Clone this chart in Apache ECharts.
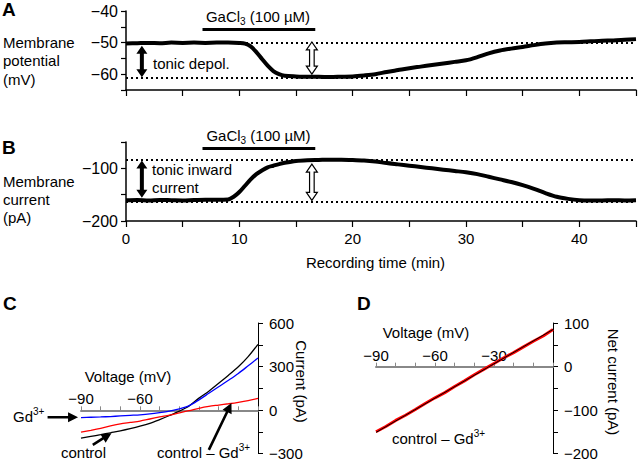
<!DOCTYPE html>
<html><head><meta charset="utf-8">
<script src="https://cdn.jsdelivr.net/npm/echarts@6/dist/echarts.min.js"></script>
<style>html,body{margin:0;padding:0;background:#fff}#c{width:640px;height:461px}</style>
</head><body><div id="c"></div>
<script>
// ---------- Panel A: membrane potential (mV) vs time (min)
const aTime = [0,1,2,3,4,5,6,7,8,9,10,10.5,11,11.5,12,12.5,13,13.5,14,15,16,17,18,19,20,21,22,23,24,25,26,27,28,29,30,31,32,33,34,35,36,37,38,39,40,41,42,43,44,45];
const aVm = [-50.3,-50.2,-50.1,-50.2,-50.0,-50.1,-50.0,-50.1,-50.0,-50.0,-50.1,-50.3,-51.2,-53.0,-55.2,-57.3,-59.0,-60.0,-60.5,-60.7,-60.8,-60.8,-60.9,-60.8,-60.7,-60.4,-60.0,-59.3,-58.7,-58.1,-57.6,-57.1,-56.6,-56.1,-55.6,-54.6,-53.4,-52.5,-51.9,-51.4,-50.8,-50.3,-50.0,-49.9,-49.8,-49.6,-49.4,-49.3,-49.1,-48.9];
const aLevels = [-50, -61];          // dotted reference levels
const aDrugLevel = -45.8;            // GaCl3 bar height
// ---------- Panel B: membrane current (pA) vs time (min)
const bTime = [0,1,2,3,4,5,6,7,8,9,9.5,10,10.5,11,11.5,12,12.5,13,13.5,14,15,16,17,18,19,20,21,22,23,24,25,26,27,28,29,30,31,32,33,34,35,36,37,38,39,40,41,42,43,44,45];
const bIm = [-160.5,-160,-161,-160,-160.5,-161,-160,-159.5,-159.5,-159,-154,-145,-133,-121,-111,-104,-98,-95,-92,-89.5,-86,-84.5,-84,-83.5,-83.5,-84,-85,-87,-90,-92.5,-95,-97.5,-100,-102.5,-105,-107.5,-111,-116,-121,-126,-132,-139,-147,-154,-158,-160.5,-161,-161,-160.5,-161,-160.5];
const bLevels = [-84, -164];
const bDrugLevel = -62;
const drugWindow = [6.75, 16.7];     // GaCl3 application (min)
const timeTicks = [0,10,20,30,40];
// arrows: [x1,y1,x2,y2,kind] kind 0 = solid double, 1 = hollow double, 2 = solid single
const aArrows = [[1.4,-51,1.4,-61,0],[16.4,-49.8,16.4,-60,1]];
const bArrows = [[1.4,-85,1.4,-156,0],[16.4,-92,16.4,-161,1]];
// ---------- Panel C: I-V curves
const cVolt = [-90,-85,-80,-75,-70,-65,-60,-55,-50,-45,-40,-35,-30,-25,-20,-15,-10,-5,0];
const cControl = [-194,-182,-170,-157,-144,-129,-112,-92,-66,-38,-8,28,82,130,185,240,298,368,453];
const cGd = [-53,-50,-48,-45,-41,-37,-33,-27,-18,-7,8,30,70,115,160,205,252,305,359];
const cDiff = [-153,-140,-126,-110,-96,-86,-76,-62,-48,-35,-20,-5,12,25,34,43,53,65,80];
const cArrows = [[-107,-50,-91.5,-50,2],[-84,-240,-74.5,-160,2],[-25,-275,-13.5,48,2]];
const cRange = [-300, 600];
// ---------- Panel D: net current
const dVolt = [-90,-85,-80,-75,-70,-65,-60,-55,-50,-45,-40,-35,-30,-25,-20,-15,-10,-5,0];
const dNet = [-150,-138,-124,-112,-99,-85,-72,-60,-46,-33,-19,-6,7,20,32,45,58,70,85];
const dFitV = [-90, 0];
const dFitI = [-151.5, 85];
const dRange = [-200, 100];

const FONT = '"Liberation Sans", Arial, sans-serif';
const zip = (a, b) => a.map((v, i) => [v, b[i]]);
const minus = v => (v < 0 ? '\u2212' + Math.abs(v) : String(v));
const IVH = 131; // height of the I-V grids
const zeroOffset = r => -(r[1] / (r[1] - r[0])) * IVH;  // move top axis down to I = 0

function arrowPts(p1, p2, sw, hw, hl, both) {
  const dx = p2[0]-p1[0], dy = p2[1]-p1[1];
  const L = Math.sqrt(dx*dx+dy*dy) || 1;
  const ux = dx/L, uy = dy/L, nx = -uy, ny = ux;
  const hb = [p2[0]-ux*hl, p2[1]-uy*hl];
  const P = (b, s) => [b[0]+nx*s, b[1]+ny*s];
  if (both) {
    const tb = [p1[0]+ux*hl, p1[1]+uy*hl];
    return [p1, P(tb,hw), P(tb,sw), P(hb,sw), P(hb,hw), p2, P(hb,-hw), P(hb,-sw), P(tb,-sw), P(tb,-hw)];
  }
  return [P(p1,sw), P(hb,sw), P(hb,hw), p2, P(hb,-hw), P(hb,-sw), P(p1,-sw)];
}
function renderArrow(params, api) {
  const p1 = api.coord([api.value(0), api.value(1)]);
  const p2 = api.coord([api.value(2), api.value(3)]);
  const k = api.value(4);
  if (k === 0) return {type:'polygon', shape:{points:arrowPts(p1,p2,2,5.5,8,true)}, style:{fill:'#000'}};
  if (k === 1) return {type:'polygon', shape:{points:arrowPts(p1,p2,2.3,5.5,8,true)}, style:{fill:'#fff', stroke:'#000', lineWidth:1.2}};
  return {type:'polygon', shape:{points:arrowPts(p1,p2,1.3,5,10,false)}, style:{fill:'#000'}};
}
function arrowSeries(data, xi, yi) {
  return {type:'custom', xAxisIndex:xi, yAxisIndex:yi, data:data, renderItem:renderArrow,
    clip:false, silent:true, z:6, encode:{x:[0,2], y:[1,3]}};
}
function refLine(x1, x2, y, dotted) {
  return [{coord:[x1,y], lineStyle: dotted ? {type:[2,3], width:2, color:'#000'} : {type:'solid', width:3, color:'#000'}},
          {coord:[x2,y]}];
}

const txt = {color:'#000', fontFamily:FONT, fontSize:15};
const timeAxis = (gi, labels) => ({
  gridIndex: gi, type:'value', min:0, max:45, interval:5,
  axisLine:{onZero:false, lineStyle:{color:'#000', width:1.5}},
  axisTick:{length:6, lineStyle:{color:'#000', width:1.2}},
  axisLabel: labels ? Object.assign({}, txt, {margin:10, formatter: v => timeTicks.includes(v) ? String(v) : ''}) : {show:false},
  splitLine:{show:false}
});
const voltAxis = (gi, range, shown) => ({
  gridIndex:gi, type:'value', min:-90, max:0, interval:10, position:'top', offset:zeroOffset(range),
  axisLine:{onZero:false, lineStyle:{color:'#888', width:2}},
  axisTick:{length:4, lineStyle:{color:'#888', width:1}},
  axisLabel:Object.assign({}, txt, {margin:4, formatter: v => shown.includes(v) ? minus(v) : ''}),
  splitLine:{show:false}
});

const option = {
  animation:false,
  backgroundColor:'#fff',
  grid:[
    {left:126, top:11, width:510, height:79},
    {left:126, top:142, width:510, height:79},
    {left:81, top:323, width:177, height:IVH},
    {left:376, top:323, width:177, height:IVH}
  ],
  xAxis:[
    timeAxis(0,false),
    timeAxis(1,true),
    voltAxis(2, cRange, [-90,-60]),
    voltAxis(3, dRange, [-90,-60,-30])
  ],
  yAxis:[
    {gridIndex:0, type:'value', min:-65, max:-40, interval:5,
     axisLine:{show:true, onZero:false, lineStyle:{color:'#000', width:1.5}},
     axisTick:{show:true, length:5, lineStyle:{color:'#000', width:1.2}},
     axisLabel:Object.assign({}, txt, {fontSize:16, margin:8, formatter: v => v % 10 === 0 ? minus(v) : ''}),
     splitLine:{show:false}},
    {gridIndex:1, type:'value', min:-200, max:-50, interval:50,
     axisLine:{show:true, onZero:false, lineStyle:{color:'#000', width:1.5}},
     axisTick:{show:true, length:5, lineStyle:{color:'#000', width:1.2}},
     axisLabel:Object.assign({}, txt, {fontSize:16, margin:8, formatter: v => (v===-100||v===-200) ? minus(v) : ''}),
     splitLine:{show:false}},
    {gridIndex:2, type:'value', min:cRange[0], max:cRange[1], interval:150, position:'right',
     axisLine:{show:true, onZero:false, lineStyle:{color:'#000', width:1}},
     axisTick:{show:true, length:5, lineStyle:{color:'#000', width:1}},
     axisLabel:Object.assign({}, txt, {margin:11, formatter: v => v % 300 === 0 ? minus(v) : ''}),
     splitLine:{show:false}},
    {gridIndex:3, type:'value', min:dRange[0], max:dRange[1], interval:50, position:'right',
     axisLine:{show:true, onZero:false, lineStyle:{color:'#000', width:1}},
     axisTick:{show:true, length:5, lineStyle:{color:'#000', width:1}},
     axisLabel:Object.assign({}, txt, {margin:11, formatter: v => v % 100 === 0 ? minus(v) : ''}),
     splitLine:{show:false}}
  ],
  series:[
    {type:'line', xAxisIndex:0, yAxisIndex:0, data:zip(aTime,aVm), showSymbol:false, smooth:0.3,
     lineStyle:{color:'#000', width:4}, z:3,
     markLine:{silent:true, symbol:['none','none'], label:{show:false}, animation:false,
       data:[refLine(0,45,aLevels[0],true), refLine(0,45,aLevels[1],true), refLine(drugWindow[0],drugWindow[1],aDrugLevel,false)]}},
    {type:'line', xAxisIndex:1, yAxisIndex:1, data:zip(bTime,bIm), showSymbol:false, smooth:0.3,
     lineStyle:{color:'#000', width:4}, z:3,
     markLine:{silent:true, symbol:['none','none'], label:{show:false}, animation:false,
       data:[refLine(0,45,bLevels[0],true), refLine(0,45,bLevels[1],true), refLine(drugWindow[0],drugWindow[1],bDrugLevel,false)]}},
    {type:'line', xAxisIndex:2, yAxisIndex:2, data:zip(cVolt,cControl), showSymbol:false, smooth:0.3,
     lineStyle:{color:'#000', width:1.3}},
    {type:'line', xAxisIndex:2, yAxisIndex:2, data:zip(cVolt,cGd), showSymbol:false, smooth:0.3,
     lineStyle:{color:'#0000ff', width:1.3}},
    {type:'line', xAxisIndex:2, yAxisIndex:2, data:zip(cVolt,cDiff), showSymbol:false, smooth:0.3,
     lineStyle:{color:'#ff0000', width:1.3}},
    {type:'line', xAxisIndex:3, yAxisIndex:3, data:zip(dVolt,dNet), showSymbol:false,
     lineStyle:{color:'#ff0000', width:3}},
    {type:'line', xAxisIndex:3, yAxisIndex:3, data:zip(dFitV,dFitI), showSymbol:false,
     lineStyle:{color:'#000', width:1}},
    arrowSeries(aArrows,0,0),
    arrowSeries(bArrows,1,1),
    arrowSeries(cArrows,2,2)
  ],
  graphic:[]
};

function T(x, y, text, extra) {
  return {type:'text', x:x, y:y, silent:true, z:10, rotation:(extra&&extra.rot)||0,
    style:Object.assign({text:text, x:0, y:0, fill:'#000', fontFamily:FONT, fontSize:15,
      textAlign:'left', textVerticalAlign:'middle'}, (extra&&extra.style)||{})};
}
const bold = {style:{fontWeight:'bold', fontSize:19}};
const center = {style:{textAlign:'center'}};
const richSub = {a:{fontSize:15, fontFamily:FONT, lineHeight:20, verticalAlign:'middle'},
                 s:{fontSize:10, fontFamily:FONT, lineHeight:10, verticalAlign:'bottom'}};
const richSup = {a:{fontSize:15, fontFamily:FONT, lineHeight:20, verticalAlign:'middle'},
                 s:{fontSize:10, fontFamily:FONT, lineHeight:10, verticalAlign:'top'}};
option.graphic = [
  T(2, 9, 'A', bold),
  T(3, 42, 'Membrane'), T(3, 60.5, 'potential'), T(3, 79, '(mV)'),
  T(2, 147, 'B', bold),
  T(3, 181, 'Membrane'), T(3, 199, 'current'), T(3, 217, '(pA)'),
  T(153, 63, 'tonic depol.'),
  T(152, 169, 'tonic inward'), T(152, 187, 'current'),
  T(258, 16, '{a|GaCl}{s|3}{a| (100 \u00b5M)}', {style:{textAlign:'center', rich:richSub}}),
  T(258.5, 135, '{a|GaCl}{s|3}{a| (100 \u00b5M)}', {style:{textAlign:'center', rich:richSub}}),
  T(375.5, 262, 'Recording time (min)', center),
  T(3, 303, 'C', bold),
  T(357, 303, 'D', bold),
  T(128, 376, 'Voltage (mV)', center),
  T(426, 332, 'Voltage (mV)', center),
  T(13, 416, '{a|Gd}{s|3+}', {style:{rich:richSup}}),
  T(83.5, 452, 'control', center),
  T(157, 452, '{a|control \u2013 Gd}{s|3+}', {style:{rich:richSup}}),
  T(392, 438, '{a|control \u2013 Gd}{s|3+}', {style:{rich:richSup}}),
  T(301.5, 381.5, 'Current (pA)', {rot:-Math.PI/2, style:{textAlign:'center'}}),
  T(613, 382, 'Net current (pA)', {rot:-Math.PI/2, style:{textAlign:'center'}})
];

const chart = echarts.init(document.getElementById('c'), null, {renderer:'svg'});
chart.setOption(option);
</script></body></html>
